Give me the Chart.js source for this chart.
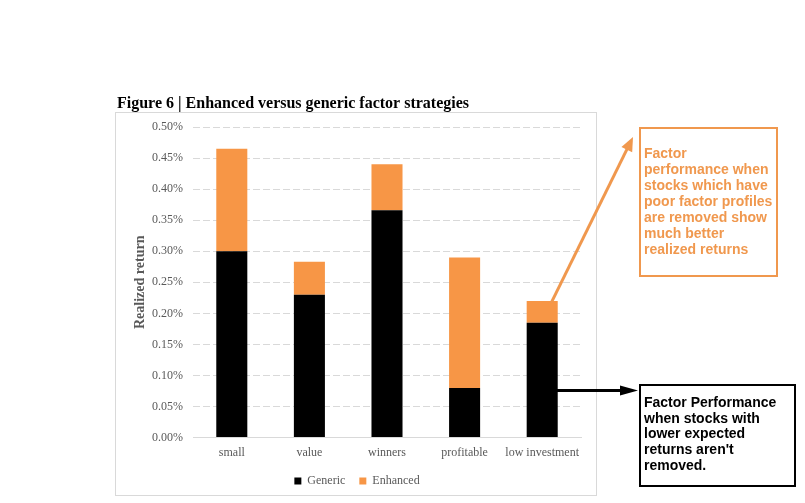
<!DOCTYPE html>
<html>
<head>
<meta charset="utf-8">
<script src="https://cdn.jsdelivr.net/npm/chart.js@4/dist/chart.umd.min.js"></script>
<style>
  html, body { margin: 0; padding: 0; background: #fff; }
  #wrap { width: 805px; height: 503px; }
</style>
</head>
<body>
<div id="wrap"><canvas id="factorChart" width="805" height="503"></canvas></div>
<script>
const categories = ['small', 'value', 'winners', 'profitable', 'low investment'];
const genericValues = [0.30, 0.23, 0.366, 0.08, 0.185];
const enhancedValues = [0.165, 0.053, 0.074, 0.21, 0.035];
const yTicks = [0, 0.05, 0.10, 0.15, 0.20, 0.25, 0.30, 0.35, 0.40, 0.45, 0.50];

const ORANGE = '#F79646';
const NOTE_ORANGE = '#F0984E';
const GRAY_TEXT = '#595959';
const GRID = '#D9D9D9';
const SERIF = '"Liberation Serif", "Times New Roman", serif';
const SANS = '"Liberation Sans", Arial, sans-serif';

const orangeNote = ['Factor', 'performance when', 'stocks which have', 'poor factor profiles',
    'are removed show', 'much better', 'realized returns'];
const blackNote = ['Factor Performance', 'when stocks with', 'lower expected',
    'returns aren\'t', 'removed.'];

function arrowHead(c, x1, y1, x2, y2, len, half) {
    var a = Math.atan2(y2 - y1, x2 - x1);
    c.beginPath();
    c.moveTo(x2, y2);
    c.lineTo(x2 - len * Math.cos(a) + half * Math.sin(a), y2 - len * Math.sin(a) - half * Math.cos(a));
    c.lineTo(x2 - len * Math.cos(a) - half * Math.sin(a), y2 - len * Math.sin(a) + half * Math.cos(a));
    c.closePath();
    c.fill();
}

const decorations = {
    id: 'decorations',
    afterLayout(chart) {
        // centre the legend inside the grey frame rather than the padded area
        chart.legend.left += 9;
        chart.legend.right += 9;
    },
    beforeDraw(chart) {
        const c = chart.ctx;
        c.save();
        c.fillStyle = '#fff';
        c.fillRect(0, 0, chart.width, chart.height);
        // chart frame
        c.strokeStyle = GRID;
        c.lineWidth = 1;
        c.strokeRect(115.5, 112.5, 481, 383);
        // figure caption
        c.fillStyle = '#000';
        c.font = 'bold 16px ' + SERIF;
        c.textBaseline = 'alphabetic';
        c.fillText('Figure 6 | Enhanced versus generic factor strategies', 117, 108);
        c.restore();
    },
    afterDraw(chart) {
        const c = chart.ctx;
        const y = chart.scales.y;
        const enh = chart.getDatasetMeta(1).data[4];
        const gen = chart.getDatasetMeta(0).data[4];
        c.save();

        // orange note
        c.strokeStyle = NOTE_ORANGE;
        c.lineWidth = 2;
        c.strokeRect(640, 128, 137, 148);
        c.fillStyle = NOTE_ORANGE;
        c.font = 'bold 14px ' + SANS;
        c.textBaseline = 'middle';
        orangeNote.forEach(function (t, i) { c.fillText(t, 644, 154 + i * 16); });

        // orange arrow
        var sx = enh.x + 9, sy = enh.y + 2, tx = 633, ty = 137;
        var d = Math.hypot(tx - sx, ty - sy);
        c.strokeStyle = NOTE_ORANGE;
        c.lineWidth = 3;
        c.beginPath();
        c.moveTo(sx, sy);
        c.lineTo(tx - 6 * (tx - sx) / d, ty - 6 * (ty - sy) / d);
        c.stroke();
        arrowHead(c, sx, sy, tx, ty, 14, 6);

        // black note
        c.strokeStyle = '#000';
        c.lineWidth = 2;
        c.strokeRect(640, 385, 155, 101);
        c.fillStyle = '#000';
        blackNote.forEach(function (t, i) { c.fillText(t, 644, 403 + i * 15.8); });

        // black arrow
        var by = Math.round(y.getPixelForValue(0.077)) + 0.5;
        c.lineWidth = 3;
        c.beginPath();
        c.moveTo(gen.x + 10, by);
        c.lineTo(624, by);
        c.stroke();
        arrowHead(c, gen.x + 10, by, 638, by, 18, 5);
        c.restore();
    }
};

const chart = new Chart(document.getElementById('factorChart'), {
    type: 'bar',
    data: {
        labels: categories,
        datasets: [{
            label: 'Generic',
            data: genericValues,
            backgroundColor: '#000',
            barPercentage: 0.4,
            categoryPercentage: 1
        }, {
            label: 'Enhanced',
            data: enhancedValues,
            backgroundColor: ORANGE,
            barPercentage: 0.4,
            categoryPercentage: 1
        }]
    },
    options: {
        responsive: false,
        animation: false,
        layout: { padding: { left: 115, right: 224, top: 127, bottom: 6 } },
        scales: {
            x: {
                stacked: true,
                afterFit(scale) { scale.height -= 7; },
                grid: { display: false, drawTicks: false },
                border: { color: GRID },
                ticks: {
                    color: GRAY_TEXT,
                    padding: 8,
                    maxRotation: 0,
                    minRotation: 0,
                    autoSkip: false,
                    font: { family: SERIF, size: 12 }
                }
            },
            y: {
                stacked: true,
                min: 0,
                max: 0.5,
                afterFit(scale) { scale.width = 78; },
                afterBuildTicks(scale) { scale.ticks = yTicks.map(v => ({ value: v })); },
                grid: { color: GRID, drawTicks: false },
                border: { display: false, dash: [7, 3] },
                ticks: {
                    color: GRAY_TEXT,
                    padding: 10,
                    font: { family: SERIF, size: 12 },
                    callback: v => v.toFixed(2) + '%'
                },
                title: {
                    display: true,
                    text: 'Realized return',
                    color: GRAY_TEXT,
                    padding: { top: 17, bottom: 0 },
                    font: { family: SERIF, size: 14, weight: 'bold' }
                }
            }
        },
        plugins: {
            tooltip: { enabled: false },
            legend: {
                position: 'bottom',
                labels: {
                    boxWidth: 7,
                    boxHeight: 7,
                    padding: 14,
                    color: GRAY_TEXT,
                    font: { family: SERIF, size: 12 }
                }
            }
        }
    },
    plugins: [decorations]
});
</script>
</body>
</html>
